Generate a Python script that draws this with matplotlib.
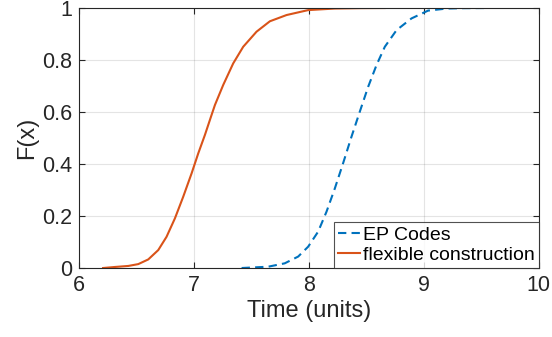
import matplotlib
matplotlib.use("Agg")
import matplotlib.pyplot as plt

# CDF
flex_x = [6.21, 6.313, 6.43, 6.516, 6.603, 6.69, 6.762, 6.835, 6.907, 6.98,
          7.038, 7.096, 7.154, 7.183, 7.255, 7.342, 7.429, 7.545, 7.661, 7.806,
          7.994, 8.226, 8.45, 8.66]
flex_f = [0.0, 0.004, 0.008, 0.015, 0.033, 0.069, 0.12, 0.191, 0.274, 0.364,
          0.441, 0.512, 0.589, 0.627, 0.704, 0.787, 0.851, 0.909, 0.949, 0.973,
          0.992, 0.998, 0.9995, 1.0]

ep_x = [7.415, 7.646, 7.79, 7.907, 7.994, 8.081, 8.154, 8.226, 8.298, 8.371,
        8.443, 8.516, 8.589, 8.661, 8.763, 8.893, 9.037, 9.2, 9.35, 9.545]
ep_f = [0.0, 0.005, 0.018, 0.044, 0.082, 0.14, 0.217, 0.306, 0.403, 0.505,
        0.601, 0.697, 0.781, 0.851, 0.915, 0.960, 0.990, 0.998, 0.9995, 1.0]

series_labels = ["EP Codes", "flexible construction"]
x_ticks = [6, 7, 8, 9, 10]
y_ticks = [0, 0.2, 0.4, 0.6, 0.8, 1]
y_tick_labels = ["0", "0.2", "0.4", "0.6", "0.8", "1"]

plt.rcParams["font.family"] = ["Liberation Sans", "DejaVu Sans"]

text_col = "#262626"
fig = plt.figure(figsize=(5.52, 3.37), dpi=100)
ax = fig.add_axes([0.143, 0.2047, 0.833, 0.7715])

ax.plot(ep_x, ep_f, color="#0072BD", linewidth=1.5, linestyle=(0, (4, 2.5)),
        label=series_labels[0])
ax.plot(flex_x, flex_f, color="#D95319", linewidth=1.5, label=series_labels[1])

ax.set_xlim(6, 10)
ax.set_ylim(0, 1)
ax.set_xticks(x_ticks)
ax.set_yticks(y_ticks)
ax.set_yticklabels(y_tick_labels)
ax.grid(True, color="#262626", alpha=0.12, linewidth=0.8)
ax.set_axisbelow(True)

ax.tick_params(direction="in", top=True, right=True, length=4, width=0.8,
               colors=text_col, labelsize=15.5, pad=5)
for sp in ax.spines.values():
    sp.set_color(text_col)
    sp.set_linewidth(0.8)

ax.set_xlabel("Time (units)", fontsize=17, color=text_col, labelpad=3)
ax.set_ylabel("F(x)", fontsize=17, color=text_col, labelpad=3)

leg = ax.legend(loc="lower right", fontsize=14, frameon=True, fancybox=False,
                borderaxespad=0.0, handlelength=1.15, handletextpad=0.15,
                borderpad=0.2, labelspacing=0.15)
leg.get_frame().set_edgecolor(text_col)
leg.get_frame().set_linewidth(0.8)
for t in leg.get_texts():
    t.set_color("#000000")

fig.savefig("out.png", dpi=100)
